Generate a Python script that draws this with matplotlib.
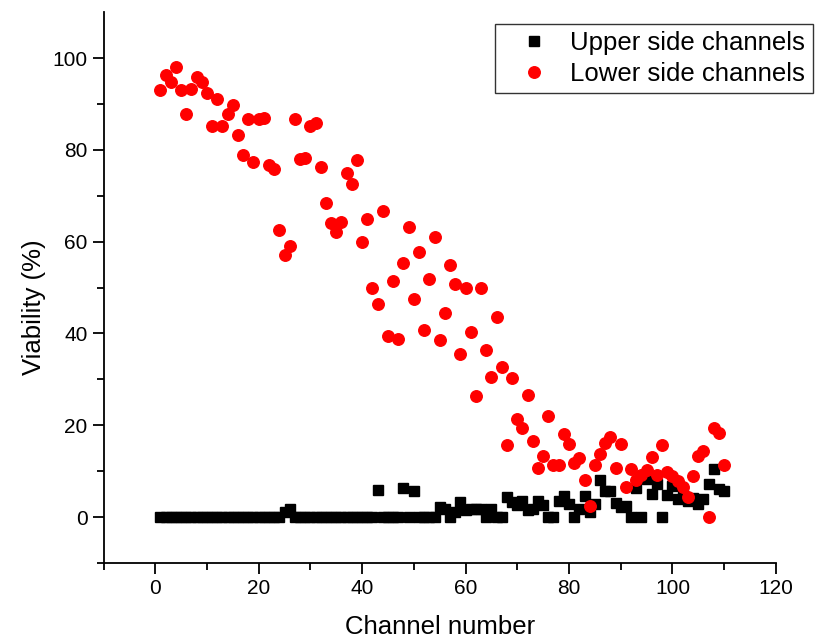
import matplotlib
matplotlib.use("Agg")
import matplotlib.pyplot as plt
import numpy as np
from matplotlib.ticker import MultipleLocator

plt.rcParams['font.family'] = ['Liberation Sans', 'DejaVu Sans']

channels = list(range(1, 111))

upper_viability = [
    0, 0, 0, 0, 0, 0, 0, 0, 0, 0,
    0, 0, 0, 0, 0, 0, 0, 0, 0, 0,
    0, 0, 0, 0, 1.2, 1.8, 0, 0, 0, 0,
    0, 0, 0, 0, 0, 0, 0, 0, 0, 0,
    0, 0, 5.9, 0, 0, 0, 0, 6.3, 0, 5.6,
    0, 0, 0, 0, 2.2, 1.8, 0, 1.2, 3.2, 1.5,
    1.8, 1.8, 1.8, 0, 1.8, 0, 0, 4.4, 3.3, 2.6,
    3.6, 1.5, 1.8, 3.6, 2.6, 0, 0, 3.6, 4.5, 2.8,
    0, 1.7, 4.6, 1.2, 2.9, 8.0, 5.6, 5.6, 3.1, 2.2,
    2.5, 0, 6.3, 0, 8.3, 5.1, 7.1, 0, 4.7, 6.8,
    3.9, 4.7, 3.5, 4.2, 2.9, 3.9, 7.1, 10.5, 6.2, 5.6,
]

lower_viability = [
    93.0, 96.3, 94.7, 98.0, 93.0, 87.9, 93.3, 95.9, 94.7, 92.3,
    85.2, 91.0, 85.2, 87.9, 89.8, 83.2, 78.8, 86.7, 77.4, 86.7,
    86.9, 76.6, 75.9, 62.5, 57.1, 59.1, 86.7, 77.9, 78.3, 85.3,
    85.8, 76.2, 68.4, 64.0, 62.1, 64.2, 75.0, 72.6, 77.7, 60.0,
    64.9, 49.9, 46.5, 66.6, 39.4, 51.4, 38.9, 55.4, 63.2, 47.6,
    57.8, 40.7, 51.9, 61.0, 38.6, 44.5, 54.9, 50.8, 35.6, 49.9,
    40.4, 26.4, 49.9, 36.5, 30.6, 43.6, 32.6, 15.6, 30.2, 21.4,
    19.3, 26.5, 16.6, 10.6, 13.4, 22.1, 11.3, 11.3, 18.0, 16.0,
    11.7, 12.8, 8.0, 2.4, 11.3, 13.8, 16.2, 17.5, 10.7, 16.0,
    6.6, 10.5, 8.0, 9.2, 10.2, 13.0, 9.2, 15.6, 9.8, 9.0,
    7.8, 6.5, 4.3, 8.9, 13.2, 14.4, 0.0, 19.5, 18.4, 11.4,
]

fig = plt.figure(figsize=(8.15, 6.39), dpi=100)
ax = fig.add_axes([0.127, 0.119, 0.825, 0.862])

ax.plot(channels, upper_viability, linestyle='none', marker='s', markersize=7,
        color='black', label='Upper side channels')
ax.plot(channels, lower_viability, linestyle='none', marker='o', markersize=8.3,
        color='red', label='Lower side channels')

ax.set_xlim(-10, 120)
ax.set_ylim(-10, 110)
ax.xaxis.set_major_locator(MultipleLocator(20))
ax.xaxis.set_minor_locator(MultipleLocator(10))
ax.set_yticks([0, 20, 40, 60, 80, 100])
ax.set_yticks([-10, 10, 30, 50, 70, 90], minor=True)

for side in ['top', 'right']:
    ax.spines[side].set_visible(False)
for side in ['left', 'bottom']:
    ax.spines[side].set_linewidth(1.3)

ax.tick_params(which='major', direction='out', length=8, width=1.3, labelsize=15)
ax.tick_params(which='minor', direction='out', length=5, width=1.3)

ax.set_xlabel('Channel number', fontsize=18.5, labelpad=12)
ax.set_ylabel('Viability (%)', fontsize=18.5)
ax.yaxis.set_label_coords(-0.085, 0.465)

leg = ax.legend(loc='upper right', bbox_to_anchor=(0.997, 0.963),
                bbox_transform=fig.transFigure, fontsize=18.5, frameon=True,
                fancybox=False, edgecolor='black', handlelength=2.4,
                handletextpad=0.2, borderpad=0.3, labelspacing=0.25,
                borderaxespad=0)
leg.get_frame().set_linewidth(1.0)

fig.savefig('out.png', dpi=100)
